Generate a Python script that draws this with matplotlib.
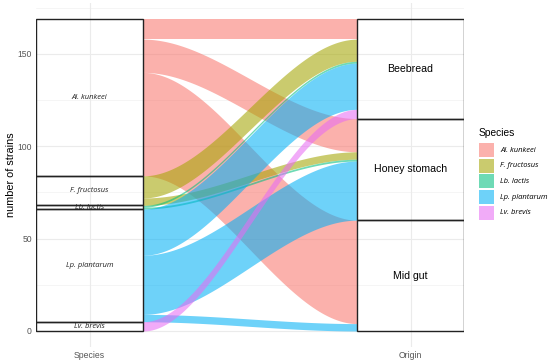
import matplotlib
matplotlib.use('Agg')
import matplotlib.pyplot as plt
from matplotlib.patches import Rectangle
import numpy as np

# Data
species = ['Al. kunkeei', 'F. fructosus', 'Lb. lactis', 'Lp. plantarum', 'Lv. brevis']
origins = ['Beebread', 'Honey stomach', 'Mid gut']
# rows: species, columns: origin (number of strains)
counts = [
    [11, 18, 56],
    [12, 4, 0],
    [1, 1, 0],
    [25, 32, 4],
    [5, 0, 0],
]
colors = ['#F8766D', '#A3A500', '#00BF7D', '#00B0F6', '#E76BF3']

counts = np.array(counts)
total = counts.sum()
w = 1 / 3.0
xl, xr = 1 + w / 2, 2 - w / 2
W, H = 550.0, 360.0

fig = plt.figure(figsize=(5.5, 3.6), dpi=100)
ax = fig.add_axes([36 / W, 1 - 346.6 / H, 428 / W, 343.4 / H])

# Grid (theme_minimal look)
for v in [0, 50, 100, 150]:
    ax.axhline(v, color='#EBEBEB', lw=0.8, zorder=0)
for v in [25, 75, 125, 175]:
    ax.axhline(v, color='#F2F2F2', lw=0.5, zorder=0)
for v in [1, 2]:
    ax.axvline(v, color='#EBEBEB', lw=0.8, zorder=0)

# stratum positions (first level on top)
sp_top = {}
y = total
for i, s in enumerate(species):
    sp_top[i] = y
    y -= counts[i].sum()
or_top = {}
y = total
for j, o in enumerate(origins):
    or_top[j] = y
    y -= counts[:, j].sum()

# flow positions
left_cur = dict(sp_top)
right_cur = dict(or_top)
left_pos = {}
for i in range(len(species)):
    for j in range(len(origins)):
        c = counts[i, j]
        left_pos[(i, j)] = (left_cur[i], left_cur[i] - c)
        left_cur[i] -= c
right_pos = {}
for j in range(len(origins)):
    for i in range(len(species)):
        c = counts[i, j]
        right_pos[(i, j)] = (right_cur[j], right_cur[j] - c)
        right_cur[j] -= c

xs = np.linspace(xl, xr, 100)
t = (xs - xl) / (xr - xl)
s = t * t * (3 - 2 * t)
for i in range(len(species)):
    for j in range(len(origins)):
        if counts[i, j] == 0:
            continue
        lt, lb = left_pos[(i, j)]
        rt, rb = right_pos[(i, j)]
        top = lt + (rt - lt) * s
        bot = lb + (rb - lb) * s
        ax.fill_between(xs, bot, top, color=colors[i], alpha=0.57, lw=0, zorder=2)

# strata boxes
for i, sname in enumerate(species):
    h = counts[i].sum()
    ax.add_patch(Rectangle((1 - w / 2, sp_top[i] - h), w, h, fill=False,
                           edgecolor='#222222', lw=1.0, zorder=3))
    ax.text(1, sp_top[i] - h / 2, sname, ha='center', va='center', fontsize=5.5,
            style='italic', family='Open Sans', color='#222222', zorder=4)
for j, oname in enumerate(origins):
    h = counts[:, j].sum()
    ax.add_patch(Rectangle((2 - w / 2, or_top[j] - h), w, h, fill=False,
                           edgecolor='#222222', lw=1.0, zorder=3))
    ax.text(2, or_top[j] - h / 2, oname, ha='center', va='center', fontsize=7.6,
            family='Liberation Sans', color='black', zorder=4)

ax.set_xlim(1 - w / 2, 2 + w / 2)
ax.set_ylim(-total * 0.05, total * 1.05)
ax.set_xticks([1, 2])
ax.set_xticklabels(['Species', 'Origin'])
ax.set_yticks([0, 50, 100, 150])
ax.tick_params(length=0, labelsize=6.2, labelcolor='#555555', pad=3)
for lab in ax.get_xticklabels() + ax.get_yticklabels():
    lab.set_family('Liberation Sans')
for sp in ax.spines.values():
    sp.set_visible(False)
ax.set_ylabel('number of strains', fontsize=7.8, family='Liberation Sans', labelpad=1)

# Legend (drawn by hand in pixel positions)
fig.text(479 / W, 1 - 133 / H, 'Species', ha='left', va='center', fontsize=7.4,
         family='Liberation Sans')
for k, (name, c) in enumerate(zip(species, colors)):
    yc = 150 + k * 15.7
    fig.add_artist(Rectangle((479 / W, 1 - (yc + 7) / H), 15 / W, 14 / H,
                             transform=fig.transFigure, facecolor=c, alpha=0.57,
                             edgecolor='none'))
    fig.text(500 / W, 1 - yc / H, name, ha='left', va='center', fontsize=5.5,
             style='italic', family='Open Sans')

fig.savefig('out.png', dpi=100)
